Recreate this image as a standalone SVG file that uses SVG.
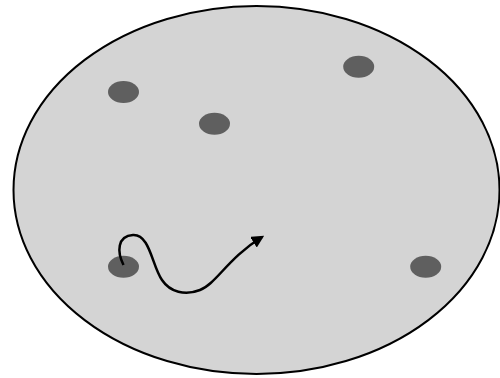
<svg xmlns="http://www.w3.org/2000/svg" width="500" height="378" viewBox="0 0 500 378">
<style>
.dot{fill:#5f5f5f}
.conn{fill:none;stroke:#000;stroke-width:2.5}
</style>
<defs>
<marker id="ah" viewBox="0 0 10 10" refX="8" refY="5" markerWidth="5" markerHeight="5" orient="auto" markerUnits="strokeWidth">
<path d="M0,0 L10,5 L0,10 z" fill="#000"/>
</marker>
</defs>
<rect width="500" height="378" fill="#fff"/>
<g id="region">
<ellipse cx="256.5" cy="190" rx="243" ry="184" fill="#d4d4d4" stroke="#000" stroke-width="2"/>
</g>
<g id="dot1"><ellipse class="dot" cx="123.5" cy="92" rx="15.5" ry="11"/></g>
<g id="dot2"><ellipse class="dot" cx="214.5" cy="123.7" rx="15.5" ry="11"/></g>
<g id="dot3"><ellipse class="dot" cx="358.7" cy="66.7" rx="15.5" ry="11"/></g>
<g id="dot4"><ellipse class="dot" cx="123.5" cy="266.7" rx="15.5" ry="11"/></g>
<g id="dot5"><ellipse class="dot" cx="425.7" cy="266.7" rx="15.5" ry="11"/></g>
<g id="connectors">
<path class="conn" marker-end="url(#ah)" d="M123.5,265 C117,252 117,236 133,235 C150,234 152,266 162,280 C170,292 185,296 200,290 C216,284 228,258 262,237"/>
</g>
</svg>
